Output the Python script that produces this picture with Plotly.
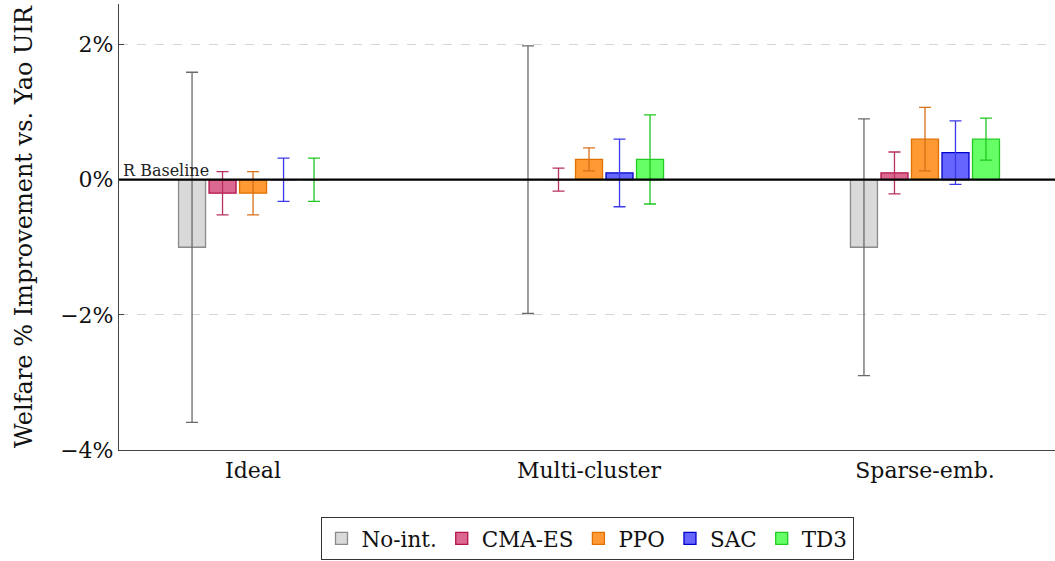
import plotly.graph_objects as go

categories = ["Ideal", "Multi-cluster", "Sparse-emb."]
series_names = ["No-int.", "CMA-ES", "PPO", "SAC", "TD3"]
no_int = [-1.0, 0.0, -1.0]
no_int_err = [2.59, 1.98, 1.9]
cma_es = [-0.2, 0.0, 0.1]
cma_es_err = [0.32, 0.17, 0.31]
ppo = [-0.2, 0.3, 0.6]
ppo_err = [0.32, 0.17, 0.47]
sac = [0.0, 0.1, 0.4]
sac_err = [0.32, 0.5, 0.47]
td3 = [0.0, 0.3, 0.6]
td3_err = [0.32, 0.66, 0.31]
y_ticks = [-4, -2, 0, 2]
y_tick_labels = ["\u22124%", "\u22122%", "0%", "2%"]

values = [no_int, cma_es, ppo, sac, td3]
errors = [no_int_err, cma_es_err, ppo_err, sac_err, td3_err]
fills = ["#d9d9d9", "#db6890", "#ff9933", "#6666ff", "#66ff66"]
edges = ["#8a8a8a", "#b3124b", "#e07000", "#0000cc", "#22cc22"]
errcols = ["#6a6a6a", "#b8305f", "#d87018", "#3a3ae8", "#1ec81e"]

FONT = "DejaVu Serif"
fig = go.Figure()
for name, v, e, f, ed, ec in zip(series_names, values, errors, fills, edges, errcols):
    fig.add_trace(go.Bar(
        x=categories, y=v, name=name,
        marker=dict(color=f, line=dict(color=ed, width=1.3)),
        error_y=dict(type="data", array=e, visible=True, color=ec, thickness=1.3, width=6),
    ))

fig.add_shape(type="line", xref="paper", x0=0, x1=1, yref="y", y0=0, y1=0,
              line=dict(color="black", width=2.2), layer="above")
fig.add_annotation(text="R Baseline", xref="paper", x=0.002, yref="y", y=0,
                   xanchor="left", yanchor="bottom", showarrow=False,
                   font=dict(family=FONT, size=16, color="#222"), yshift=-2)

fig.update_layout(
    width=1055, height=561,
    margin=dict(l=119, r=0, t=4, b=111),
    plot_bgcolor="white", paper_bgcolor="white",
    barmode="group", bargap=0.546, bargroupgap=0.115,
    font=dict(family=FONT, size=20, color="#111"),
    showlegend=True,
    legend=dict(orientation="h", x=0.5, xanchor="center", y=-0.15, yanchor="top",
                bordercolor="#333", borderwidth=1, font=dict(family=FONT, size=21.5),
                itemwidth=30, tracegroupgap=0),
    xaxis=dict(range=[-0.399, 2.387], showline=True, linecolor="#444", linewidth=1.2,
               ticks="", showgrid=False, zeroline=False, tickfont=dict(size=22)),
    yaxis=dict(range=[-4, 2.6], tickvals=y_ticks, ticktext=y_tick_labels,
               showline=True, linecolor="#444", linewidth=1.2,
               ticks="inside", ticklen=5, tickcolor="#444",
               showgrid=True, gridcolor="#d5d5d5", griddash="dash", gridwidth=1,
               zeroline=False, tickfont=dict(size=22),
               title=dict(text="Welfare % Improvement vs. Yao UIR", font=dict(size=24), standoff=20)),
)
fig.write_html("out.html")
